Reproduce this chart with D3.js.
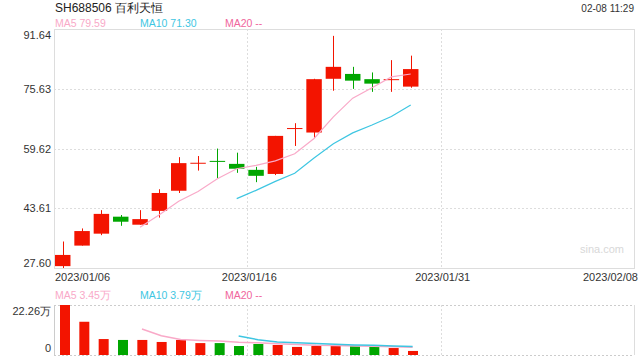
<!DOCTYPE html>
<html>
<head>
<meta charset="utf-8">
<script src="https://cdn.jsdelivr.net/npm/d3@7/dist/d3.min.js"></script>
<style>
  body { margin: 0; background: #fff; }
  svg { display: block; font-family: Arial, "Liberation Sans", sans-serif; }
  .grid { stroke: #ddd; stroke-dasharray: 2 2; }
  .frame { stroke: #ddd; fill: none; }
  .lbl { fill: #333; font-size: 11px; }
</style>
</head>
<body>
<div id="chart"></div>
<script>
// trading days shown (SH688506)
var dates = ['01/06','01/09','01/10','01/11','01/12','01/13','01/16','01/17','01/18','01/19','01/20',
             '01/30','01/31','02/01','02/02','02/03','02/06','02/07','02/08'];
var opens  = [28.1, 33.6, 36.8, 41.35, 39.2, 42.9, 48.3, 55.6, 56.3, 55.5, 53.9, 52.8, 64.9, 63.9, 78.3, 79.6, 78.2, 78.1, 76.2];
var closes = [31.1, 37.5, 42.1, 40.0, 40.7, 47.7, 55.7, 55.8, 56.1, 54.2, 52.3, 63.0, 65.1, 78.2, 81.5, 77.8, 77.0, 78.2, 80.9];
var highs  = [34.7, 38.2, 43.1, 41.8, 43.1, 48.7, 57.3, 57.6, 59.6, 58.5, 54.7, 63.0, 66.4, 78.3, 89.8, 81.5, 80.0, 83.3, 84.5];
var lows   = [27.6, 33.6, 36.4, 38.9, 39.2, 41.1, 47.7, 53.7, 51.7, 53.1, 50.6, 52.5, 60.3, 62.4, 75.1, 75.6, 74.8, 74.8, 75.9];
var ma5  = [null, null, null, null, 38.5, 41.9, 45.5, 48.1, 51.5, 54.2, 55.1, 56.3, 58.2, 62.3, 68.1, 73.1, 75.9, 78.8, 79.59];
var ma10 = [null, null, null, null, null, null, null, null, null, 46.2, 48.4, 50.8, 53.0, 57.1, 60.9, 63.8, 65.9, 68.2, 71.30];

// volume in 万 shares
var vols    = [22.26, 14.8, 7.1, 6.7, 6.7, 5.8, 6.7, 5.3, 5.3, 4.0, 4.9, 4.45, 3.6, 4.0, 4.0, 4.1, 4.0, 3.1, 1.8];
var volMa5  = [null, null, null, null, 11.6, 8.6, 6.9, 6.5, 6.2, 5.7, 5.4, 5.0, 4.7, 4.3, 4.2, 4.0, 3.9, 3.7, 3.45];
var volMa10 = [null, null, null, null, null, null, null, null, null, 8.5, 6.8, 5.8, 5.4, 5.1, 4.8, 4.5, 4.3, 4.0, 3.79];

var priceTicks = [27.60, 43.61, 59.62, 75.63, 91.64];
var volTicks = [0, 22.26];
var dateTicks = [{ slot: 0, text: '2023/01/06' }, { slot: 10, text: '2023/01/16' },
                 { slot: 20, text: '2023/01/31' }, { slot: 30, text: '2023/02/08' }];

var W = 640, H = 360,
    pLeft = 54, pRight = 634,
    pTop = 29, pBottom = 268,
    vTop = 305, vBottom = 355,
    slots = 30,
    up = '#f31400', down = '#00a600',
    c5 = '#f9a9c8', c10 = '#3ec6e2', c20 = '#f0669c';

var svg = d3.select('#chart').append('svg').attr('width', W).attr('height', H);

var x = d3.scaleLinear().domain([0, slots]).range([pLeft, pRight]);
var y = d3.scaleLinear().domain([27.60, 91.64]).range([pBottom, pTop]);
var yv = d3.scaleLinear().domain([0, 22.26]).range([vBottom, vTop]);
var sw = x(1) - x(0);

// header
svg.append('text').attr('x', 55).attr('y', 12).attr('font-size', 12).attr('fill', '#222')
    .text('SH688506 百利天恒');
svg.append('text').attr('x', 634).attr('y', 12).attr('font-size', 10).attr('fill', '#333')
    .attr('text-anchor', 'end').text('02-08 11:29');

function legend(yPos, a, b) {
    svg.append('text').attr('x', 55).attr('y', yPos).attr('font-size', 10.5).attr('fill', c5).text(a);
    svg.append('text').attr('x', 140).attr('y', yPos).attr('font-size', 10.5).attr('fill', c10).text(b);
    svg.append('text').attr('x', 225).attr('y', yPos).attr('font-size', 10.5).attr('fill', c20).text('MA20 --');
}
legend(27, 'MA5 79.59', 'MA10 71.30');
legend(299, 'MA5 3.45万', 'MA10 3.79万');

// price panel grid
svg.selectAll('.hgrid').data(priceTicks.slice(1, -1)).enter().append('line')
    .attr('class', 'grid')
    .attr('x1', pLeft).attr('x2', pRight)
    .attr('y1', d => Math.round(y(d)) + 0.5).attr('y2', d => Math.round(y(d)) + 0.5);
[10, 20].forEach(function(s) {
    var xx = Math.round(x(s)) + 0.5;
    svg.append('line').attr('class', 'grid').attr('x1', xx).attr('x2', xx).attr('y1', pTop).attr('y2', pBottom);
    svg.append('line').attr('class', 'grid').attr('x1', xx).attr('x2', xx).attr('y1', vTop).attr('y2', vBottom);
});
svg.append('rect').attr('class', 'frame')
    .attr('x', pLeft + 0.5).attr('y', pTop + 0.5).attr('width', pRight - pLeft).attr('height', pBottom - pTop);

svg.append('text').attr('x', 602).attr('y', 253).attr('font-size', 11).attr('fill', '#d8d8d8')
    .attr('text-anchor', 'middle').text('sina.com');

// price labels
svg.selectAll('.plbl').data(priceTicks).enter().append('text')
    .attr('class', 'lbl').attr('text-anchor', 'end').attr('x', 51)
    .attr('y', function(d, i) {
        if (i == priceTicks.length - 1) return y(d) + 10;
        if (i == 0) return y(d) - 1;
        return y(d) + 4;
    })
    .text(d => d.toFixed(2));

// date labels
svg.selectAll('.dlbl').data(dateTicks).enter().append('text')
    .attr('class', 'lbl').attr('y', 281)
    .attr('x', d => d.slot == 0 ? x(0) + 1 : (d.slot == slots ? x(slots) + 4 : x(d.slot) + 2))
    .attr('text-anchor', d => d.slot == 0 ? 'start' : (d.slot == slots ? 'end' : 'middle'))
    .text(d => d.text);

// candles
var candles = svg.append('g').selectAll('g').data(dates).enter().append('g');
candles.append('line')
    .attr('x1', (d, i) => Math.round(x(i) + sw * 0.45) + 0.5)
    .attr('x2', (d, i) => Math.round(x(i) + sw * 0.45) + 0.5)
    .attr('y1', (d, i) => y(highs[i])).attr('y2', (d, i) => y(lows[i]))
    .attr('stroke', (d, i) => closes[i] >= opens[i] ? up : down);
candles.append('rect')
    .attr('x', (d, i) => x(i) + 1).attr('width', sw * 0.8)
    .attr('y', (d, i) => y(Math.max(opens[i], closes[i])))
    .attr('height', (d, i) => Math.max(1, Math.abs(y(opens[i]) - y(closes[i]))))
    .attr('fill', (d, i) => closes[i] >= opens[i] ? up : down);

var line = d3.line()
    .defined(d => d != null)
    .x((d, i) => x(i) + sw * 0.45)
    .y(d => y(d));
svg.append('path').datum(ma5).attr('d', line).attr('fill', 'none').attr('stroke', c5).attr('stroke-width', 1.2);
svg.append('path').datum(ma10).attr('d', line).attr('fill', 'none').attr('stroke', c10).attr('stroke-width', 1.2);

// volume panel
svg.append('line').attr('x1', pLeft).attr('x2', pRight).attr('y1', vTop + 0.5).attr('y2', vTop + 0.5)
    .attr('stroke', '#ccc').attr('stroke-dasharray', '2 2');
svg.append('line').attr('x1', pLeft).attr('x2', pRight).attr('y1', vBottom + 0.5).attr('y2', vBottom + 0.5)
    .attr('stroke', '#ccc').attr('stroke-dasharray', '2 2');
svg.append('line').attr('x1', pLeft + 0.5).attr('x2', pLeft + 0.5).attr('y1', vTop).attr('y2', vBottom)
    .attr('stroke', '#ccc');
svg.append('line').attr('x1', pRight + 0.5).attr('x2', pRight + 0.5).attr('y1', vTop).attr('y2', vBottom)
    .attr('stroke', '#ddd');

svg.selectAll('.vbar').data(vols).enter().append('rect')
    .attr('x', (d, i) => x(i) + 6).attr('width', 10)
    .attr('y', d => yv(d)).attr('height', d => vBottom - yv(d))
    .attr('fill', (d, i) => closes[i] >= opens[i] ? up : down);

var vline = d3.line()
    .defined(d => d != null)
    .x((d, i) => x(i) + sw * 0.55)
    .y(d => yv(d));
svg.append('path').datum(volMa5).attr('d', vline).attr('fill', 'none').attr('stroke', c5).attr('stroke-width', 1.5);
svg.append('path').datum(volMa10).attr('d', vline).attr('fill', 'none').attr('stroke', c10).attr('stroke-width', 1.5);

svg.selectAll('.vlbl').data(volTicks).enter().append('text')
    .attr('class', 'lbl').attr('text-anchor', 'end').attr('x', 51)
    .attr('y', d => d == 0 ? yv(d) - 3 : yv(d) + 10)
    .text(d => d == 0 ? '0' : d.toFixed(2) + '万');
</script>
</body>
</html>
